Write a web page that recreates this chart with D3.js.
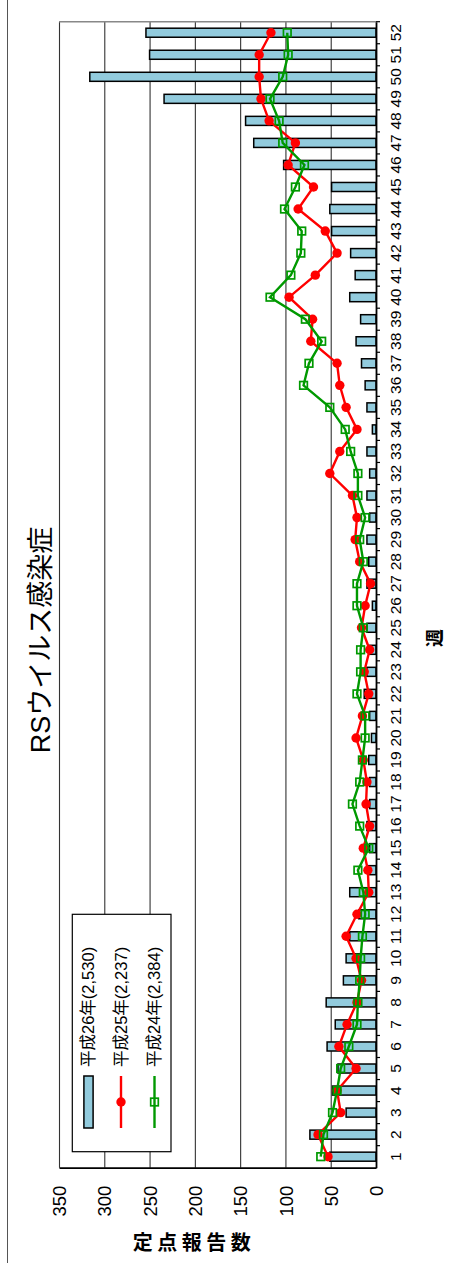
<!DOCTYPE html>
<html lang="ja">
<head>
<meta charset="utf-8">
<title>RSウイルス感染症</title>
<script src="https://cdn.jsdelivr.net/npm/d3@7"></script>
<style>
  body { margin: 0; background: #fff; }
  text { font-family: "Liberation Sans", Arial, "Noto Sans CJK JP", sans-serif; fill: #000; }
</style>
</head>
<body>
<script>
// categories and series
var weeks = [1,2,3,4,5,6,7,8,9,10,11,12,13,14,15,16,17,18,19,20,21,22,23,24,25,26,
             27,28,29,30,31,32,33,34,35,36,37,38,39,40,41,42,43,44,45,46,47,48,49,50,51,52];
var h26 = [51,73,33,48,42,54,45,55,36,33,29,19,29,9,7,10,7,7,8,5,7,13,10,7,10,4,
           10,8,10,7,10,7,10,4,10,12,16,22,17,29,23,28,49,51,49,102,135,144,234,316,250,254];
var h25 = [53,64,39,43,22,41,32,21,16,22,33,21,8,9,14,7,11,10,14,22,15,8,13,7,16,12,
           6,18,23,21,26,51,40,21,33,40,43,72,70,96,67,43,56,86,69,97,89,118,127,129,129,116];
var h24 = [61,58,48,43,39,30,21,20,18,17,15,12,14,20,8,18,26,18,15,12,12,21,17,17,14,21,
           21,14,18,12,20,20,28,34,51,80,74,60,78,117,94,83,82,101,89,79,103,107,117,103,97,98];
var seriesNames = ["平成26年(2,530)", "平成25年(2,237)", "平成24年(2,384)"];
var valueTicks = [0,50,100,150,200,250,300,350];
var title = "RSウイルス感染症";
var yTitle = "定点報告数";
var xTitle = "週";

var w = 450, h = 1263;
var plotTop = 21.7, plotBottom = 1167.7, zeroX = 376, maxX = 59;
var blue = "#92CBDD", red = "#FF0000", green = "#009900";

var svg = d3.select("body").append("svg")
    .attr("width", w)
    .attr("height", h);

// chart frame edge on the left
svg.append("line")
    .attr("x1", 7.5).attr("x2", 7.5)
    .attr("y1", 0).attr("y2", h)
    .attr("stroke", "#555").attr("stroke-width", 1);

// the chart is turned on its side: weeks run bottom to top, values right to left
var yScale = d3.scaleBand().domain(weeks).range([plotBottom, plotTop]);
var xScale = d3.scaleLinear().domain([0, 350]).range([zeroX, maxX]);
var bw = yScale.bandwidth();

// grid
svg.append("g")
    .attr("transform", "translate(0," + plotBottom + ")")
    .call(d3.axisBottom(xScale).tickValues(valueTicks.slice(1)).tickSize(-(plotBottom - plotTop)).tickFormat(""))
    .call(function(g) {
        g.select(".domain").remove();
        g.selectAll(".tick line").attr("stroke", "#333").attr("stroke-width", 1.1);
    });

// plot border far end
svg.append("line")
    .attr("x1", maxX).attr("x2", zeroX)
    .attr("y1", plotTop).attr("y2", plotTop)
    .attr("stroke", "#888").attr("stroke-width", 1.4);

// bars
var barT = bw * 0.41;
svg.selectAll("rect.bar")
    .data(h26)
    .enter()
    .append("rect")
    .attr("class", "bar")
    .attr("x", function(d) { return xScale(d); })
    .attr("y", function(d, i) { return yScale(weeks[i]) + (bw - barT) / 2; })
    .attr("width", function(d) { return xScale(0) - xScale(d); })
    .attr("height", barT)
    .attr("fill", blue)
    .attr("stroke", "#000")
    .attr("stroke-width", 1.5);

var line = d3.line()
    .x(function(d) { return xScale(d); })
    .y(function(d, i) { return yScale(weeks[i]) + bw / 2; });

// 平成25
svg.append("path")
    .datum(h25)
    .attr("d", line)
    .attr("fill", "none")
    .attr("stroke", red)
    .attr("stroke-width", 2.4);
svg.selectAll("circle.h25")
    .data(h25)
    .enter()
    .append("circle")
    .attr("class", "h25")
    .attr("cx", function(d) { return xScale(d); })
    .attr("cy", function(d, i) { return yScale(weeks[i]) + bw / 2; })
    .attr("r", 4.7)
    .attr("fill", red);

// 平成24
svg.append("path")
    .datum(h24)
    .attr("d", line)
    .attr("fill", "none")
    .attr("stroke", green)
    .attr("stroke-width", 2.4);
svg.selectAll("rect.h24")
    .data(h24)
    .enter()
    .append("rect")
    .attr("class", "h24")
    .attr("x", function(d) { return xScale(d) - 3.8; })
    .attr("y", function(d, i) { return yScale(weeks[i]) + bw / 2 - 3.8; })
    .attr("width", 7.6)
    .attr("height", 7.6)
    .attr("fill", "none")
    .attr("stroke", green)
    .attr("stroke-width", 1.7);

// value axis
svg.append("g")
    .attr("transform", "translate(0," + plotBottom + ")")
    .call(d3.axisBottom(xScale).tickValues(valueTicks).tickSize(0))
    .call(function(g) {
        g.select(".domain").attr("stroke", "#000").attr("stroke-width", 1.8);
        g.selectAll(".tick text")
            .attr("transform", "rotate(-90)")
            .attr("x", -18)
            .attr("y", 0)
            .attr("dy", "0.36em")
            .attr("text-anchor", "end")
            .attr("font-size", "18.5px")
            .attr("font-family", "Liberation Sans, Arial, sans-serif")
            .attr("fill", "#000");
    });

// week axis
svg.append("g")
    .attr("transform", "translate(" + zeroX + ",0)")
    .call(d3.axisRight(yScale).tickSize(0))
    .call(function(g) {
        g.select(".domain").attr("stroke", "#000").attr("stroke-width", 1.8);
        g.selectAll(".tick text")
            .attr("transform", "rotate(-90)")
            .attr("x", 0)
            .attr("y", 19)
            .attr("dy", "0.36em")
            .attr("text-anchor", "middle")
            .attr("font-size", "15.5px")
            .attr("font-family", "Liberation Sans, Arial, sans-serif")
            .attr("fill", "#000");
    });

// week boundary ticks
svg.selectAll("line.wtick")
    .data(weeks)
    .enter()
    .append("line")
    .attr("class", "wtick")
    .attr("x1", zeroX).attr("x2", zeroX + 4)
    .attr("y1", function(d) { return yScale(d); })
    .attr("y2", function(d) { return yScale(d); })
    .attr("stroke", "#000")
    .attr("stroke-width", 1.2);

// title
svg.append("text")
    .attr("transform", "translate(40.5,640) rotate(-90)")
    .attr("text-anchor", "middle")
    .attr("dy", "0.36em")
    .attr("font-size", "27px")
    .text(title);

// axis titles
svg.append("text")
    .attr("x", 194)
    .attr("y", 1243)
    .attr("text-anchor", "middle")
    .attr("dy", "0.36em")
    .attr("font-size", "20px")
    .attr("font-weight", "bold")
    .attr("letter-spacing", "4.5px")
    .text(yTitle);

svg.append("text")
    .attr("transform", "translate(435,638) rotate(-90)")
    .attr("text-anchor", "middle")
    .attr("dy", "0.36em")
    .attr("font-size", "18px")
    .attr("font-weight", "bold")
    .text(xTitle);

// legend
var legend = svg.append("g");
legend.append("rect")
    .attr("x", 72.3).attr("y", 914.3)
    .attr("width", 98.7).attr("height", 237.4)
    .attr("fill", "#fff")
    .attr("stroke", "#000")
    .attr("stroke-width", 1.2);

var legX = [88.5, 121, 154.5];
legend.append("rect")
    .attr("x", legX[0] - 4.6).attr("y", 1076)
    .attr("width", 9.2).attr("height", 52)
    .attr("fill", blue).attr("stroke", "#000").attr("stroke-width", 1.5);

legend.append("line")
    .attr("x1", legX[1]).attr("x2", legX[1])
    .attr("y1", 1076).attr("y2", 1128)
    .attr("stroke", red).attr("stroke-width", 2.4);
legend.append("circle")
    .attr("cx", legX[1]).attr("cy", 1102).attr("r", 4.7)
    .attr("fill", red);

legend.append("line")
    .attr("x1", legX[2]).attr("x2", legX[2])
    .attr("y1", 1076).attr("y2", 1128)
    .attr("stroke", green).attr("stroke-width", 2.4);
legend.append("rect")
    .attr("x", legX[2] - 3.8).attr("y", 1102 - 3.8)
    .attr("width", 7.6).attr("height", 7.6)
    .attr("fill", "none").attr("stroke", green).attr("stroke-width", 1.7);

legend.selectAll("text")
    .data(seriesNames)
    .enter()
    .append("text")
    .attr("transform", function(d, i) { return "translate(" + legX[i] + ",1067) rotate(-90)"; })
    .attr("dy", "0.36em")
    .attr("font-size", "16.5px")
    .text(function(d) { return d; });
</script>
</body>
</html>
